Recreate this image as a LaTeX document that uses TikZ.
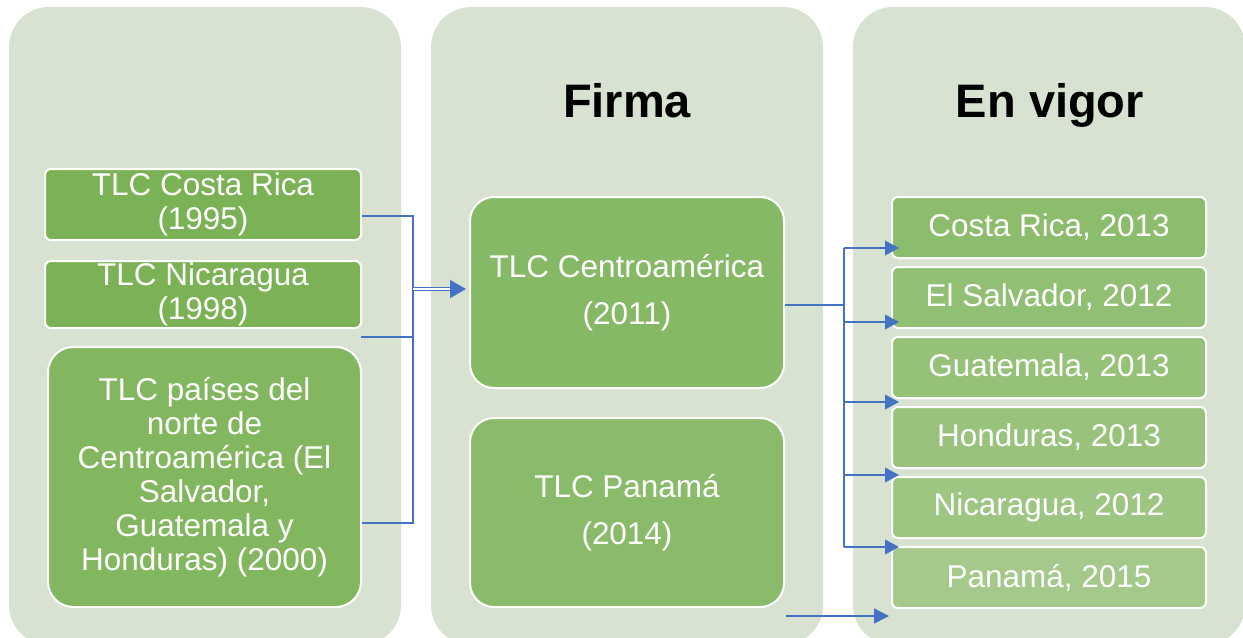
\documentclass[tikz,border=0pt]{standalone}
\usepackage{fontspec}
\setmainfont{Liberation Sans}
\usetikzlibrary{arrows.meta}

\definecolor{panelbg}{RGB}{215,227,208}
\definecolor{boxA}{RGB}{122,178,85}
\definecolor{boxB}{RGB}{130,183,96}
\definecolor{boxC}{RGB}{134,185,102}
\definecolor{boxD}{RGB}{137,187,106}
\definecolor{rb1}{RGB}{140,189,109}
\definecolor{rb2}{RGB}{145,191,115}
\definecolor{rb3}{RGB}{149,193,120}
\definecolor{rb4}{RGB}{153,195,125}
\definecolor{rb5}{RGB}{158,198,131}
\definecolor{rb6}{RGB}{164,201,139}
\definecolor{link}{RGB}{68,114,196}

\begin{document}
\begin{tikzpicture}[x=0.75pt,y=-0.75pt,
  panel/.style={fill=panelbg, rounded corners=30pt},
  card/.style={draw=white, line width=1.5pt, inner sep=0pt, text=white,
    align=center, font=\fontsize{23.6}{25.5}\selectfont},
  size/.style 2 args={minimum width=#1*0.75pt, minimum height=#2*0.75pt},
  smallcard/.style={card, rounded corners=4.5pt},
  tallcard/.style={card, rounded corners=18pt, font=\fontsize{23.6}{35}\selectfont},
  title/.style={font=\fontsize{35.25}{40}\selectfont\bfseries, text=black, anchor=base},
  conn/.style={draw=link, line width=1.1pt},
  tip/.style={-{Triangle[length=10.5pt,width=11pt]}}
]
\useasboundingbox (0,0) rectangle (1243,637);

% background columns
\begin{scope}
  \clip (0,0) rectangle (1243,637);
  \fill[panel] (9,7) rectangle (401,645);
  \fill[panel] (431,7) rectangle (823,645);
  \fill[panel] (853,7) rectangle (1245,645);
\end{scope}

% column titles
\node[title] (firma) at (627,117) {Firma};
\node[title] (vigor) at (1050,117) {En vigor};

% earlier agreements
\node[smallcard, fill=boxA, size={316}{71}] (cr) at (203,204.5) {TLC Costa Rica\\(1995)};
\node[smallcard, fill=boxA, size={316}{67}] (nic) at (203,294.5) {TLC Nicaragua\\(1998)};
\node[card, fill=boxB, rounded corners=19pt, size={313}{260}] (norte) at (204.5,477)
  {TLC países del\\norte de\\Centroamérica (El\\Salvador,\\Guatemala y\\Honduras) (2000)};

% signed agreements
\node[tallcard, fill=boxC, size={314}{191}] (cam) at (627,292.5) {TLC Centroamérica\\(2011)};
\node[tallcard, fill=boxD, size={314}{189}] (pan) at (627,512.5) {TLC Panamá\\(2014)};

% entry into force
\node[smallcard, fill=rb1, size={314}{61}] (v1) at (1049,227.5) {Costa Rica, 2013};
\node[smallcard, fill=rb2, size={314}{61}] (v2) at (1049,297.5) {El Salvador, 2012};
\node[smallcard, fill=rb3, size={314}{61}] (v3) at (1049,367.5) {Guatemala, 2013};
\node[smallcard, fill=rb4, size={314}{61}] (v4) at (1049,437.5) {Honduras, 2013};
\node[smallcard, fill=rb5, size={314}{61}] (v5) at (1049,507.5) {Nicaragua, 2012};
\node[smallcard, fill=rb6, size={314}{61}] (v6) at (1049,577.5) {Panamá, 2015};

% left bracket into the regional agreement
\coordinate (lt) at (413,216);
\coordinate (lb) at (413,523);
\coordinate (lj) at (413,289);
\coordinate (ln) at (361,337);
\coordinate (lh) at (452,289);
\draw[conn] (cr.east |- lt) -- (lt) -- (lb) -- (norte.east |- lb);
\draw[conn] (ln) -- (lt |- ln);
\draw[draw=link, line width=1.1pt, double=white, double distance=1pt] (lj) -- (lh);
\draw[conn, -{Triangle[length=12pt,width=13.5pt]}] (lh) -- ([xshift=-2.25pt]cam.west |- lj);

% right bracket to each country
\coordinate (rj) at (844,305);
\coordinate (rt) at (844,248);
\coordinate (rb) at (844,547);
\draw[conn, line width=1.4pt] (cam.east |- rj) -- (rj);
\draw[conn] (rt) -- (rb);
\draw[conn, tip, shorten >=-6pt] (rt) -- (v1.west |- rt);
\draw[conn, tip, shorten >=-6pt] (844,322) coordinate (r2) -- (v2.west |- r2);
\draw[conn, tip, shorten >=-6pt] (844,402) coordinate (r3) -- (v3.west |- r3);
\draw[conn, tip, shorten >=-6pt] (844,475) coordinate (r4) -- (v4.west |- r4);
\draw[conn, tip, shorten >=-6pt] (rb) -- (v6.west |- rb);

% Panama agreement
\coordinate (pb) at (786,616);
\draw[conn, -{Triangle[length=11.25pt,width=11.25pt]}, shorten >=1.5pt] (pb) -- (v6.west |- pb);
\end{tikzpicture}
\end{document}
